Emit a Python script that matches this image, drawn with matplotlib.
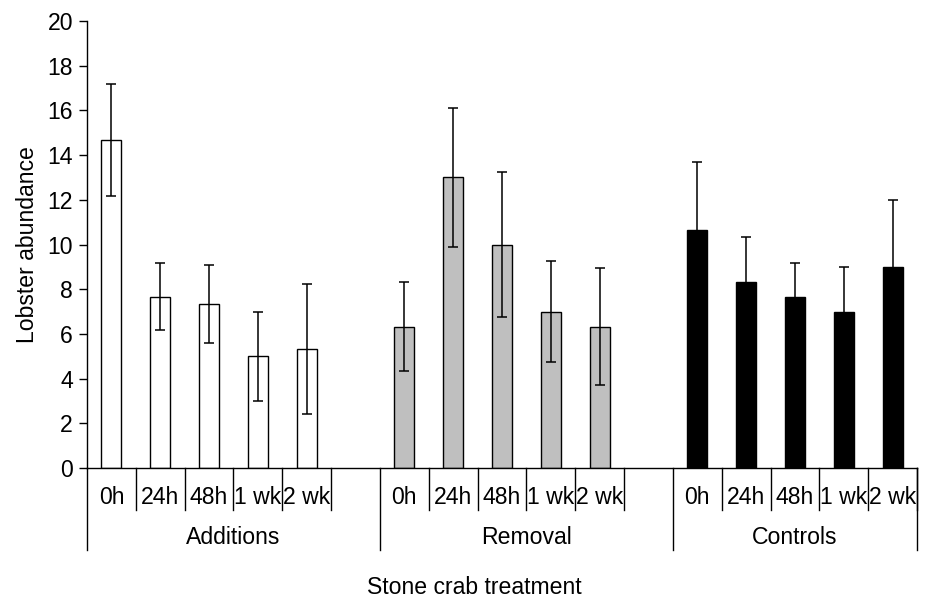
import matplotlib
matplotlib.use("Agg")
import matplotlib.pyplot as plt
import matplotlib.transforms as mtransforms

plt.rcParams["font.family"] = ["Liberation Sans", "DejaVu Sans"]

groups = ["Additions", "Removal", "Controls"]
times = ["0h", "24h", "48h", "1 wk", "2 wk"]
means = {
    "Additions": [14.67, 7.67, 7.33, 5.0, 5.33],
    "Removal": [6.33, 13.0, 10.0, 7.0, 6.33],
    "Controls": [10.67, 8.33, 7.67, 7.0, 9.0],
}
errors = {
    "Additions": [2.5, 1.5, 1.75, 2.0, 2.9],
    "Removal": [2.0, 3.1, 3.25, 2.25, 2.6],
    "Controls": [3.0, 2.0, 1.5, 2.0, 3.0],
}
colors = {"Additions": "white", "Removal": "#bfbfbf", "Controls": "black"}

fig = plt.figure(figsize=(9.27, 6), dpi=100)
ax = fig.add_axes([87 / 927, 1 - 468 / 600, 830 / 927, 447 / 600])

fs = 16.6
slot = 0
group_edges = [0]
for g in groups:
    xs = [slot + i + 0.5 for i in range(len(times))]
    ax.bar(xs, means[g], width=0.41, color=colors[g], edgecolor="black", linewidth=1, zorder=2)
    ax.errorbar(xs, means[g], yerr=errors[g], fmt="none", ecolor="black",
                elinewidth=1.1, capsize=3.3, capthick=1.1, zorder=3)
    slot += len(times) + (1 if g != groups[-1] else 0)
    group_edges.append(slot)

ax.set_xlim(0, group_edges[-1])
ax.set_ylim(0, 20)
ax.set_yticks(range(0, 21, 2))
ax.tick_params(axis="y", direction="out", length=6, width=1, labelsize=fs, pad=4)
ax.set_xticks([])
for side in ("top", "right"):
    ax.spines[side].set_visible(False)
for side in ("left", "bottom"):
    ax.spines[side].set_linewidth(1)
ax.set_ylabel("Lobster abundance", fontsize=fs, labelpad=6)

trans = mtransforms.blended_transform_factory(ax.transData, ax.transAxes)
ax_h = 447
slot_low = -42 / ax_h
group_low = -82 / ax_h

for gi, g in enumerate(groups):
    start = group_edges[gi]
    for i, t in enumerate(times):
        x = start + i
        if i > 0:
            ax.plot([x, x], [0, slot_low], color="black", lw=1, transform=trans, clip_on=False)
        ax.text(x + 0.5, -29 / ax_h, t, ha="center", va="center", fontsize=fs, transform=trans)
    ax.plot([start + len(times), start + len(times)], [0, slot_low], color="black", lw=1,
            transform=trans, clip_on=False)
    mid = (group_edges[gi] + group_edges[gi + 1]) / 2
    ax.text(mid, -69 / ax_h, g, ha="center", va="center", fontsize=fs, transform=trans)

for e in group_edges:
    ax.plot([e, e], [0, group_low], color="black", lw=1, transform=trans, clip_on=False)

fig.text(474 / 927, 1 - 588 / 600, "Stone crab treatment", ha="center", va="center", fontsize=fs)

fig.savefig("out.png", dpi=100)
